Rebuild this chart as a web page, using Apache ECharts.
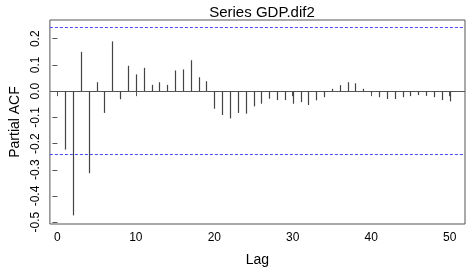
<!DOCTYPE html>
<html>
<head>
<meta charset="utf-8">
<script src="https://cdn.jsdelivr.net/npm/echarts@6/dist/echarts.min.js"></script>
<style>
  html, body { margin: 0; padding: 0; background: #fff; }
  #main { width: 468px; height: 272px; }
</style>
</head>
<body>
<div id="main"></div>
<script>
// lags 1..50 and partial autocorrelations
var lags = [];
for (var k = 1; k <= 50; k++) lags.push(k);
var pacfValues = [
  -0.223, -0.474, 0.150, -0.313, 0.034, -0.083, 0.190, -0.031, 0.097, 0.064,
  0.089, 0.024, 0.034, 0.024, 0.079, 0.083, 0.118, 0.053, 0.038, -0.067,
  -0.091, -0.104, -0.083, -0.086, -0.058, -0.048, -0.029, -0.034, -0.034, -0.048,
  -0.042, -0.053, -0.035, -0.023, 0.009, 0.023, 0.034, 0.030, 0.009, -0.006,
  -0.023, -0.030, -0.030, -0.023, -0.019, -0.015, -0.018, -0.023, -0.034, -0.039
];
var ciBound = 0.243;
var refLevels = [0, ciBound, -ciBound];
var xTicks = [0, 10, 20, 30, 40, 50];
var yTicks = [-0.5, -0.4, -0.3, -0.2, -0.1, 0.0, 0.1, 0.2];
var xMin = -0.96, xMax = 51.96;
var yMin = -0.5069, yMax = 0.2715;

var font = '"Liberation Sans", Arial, sans-serif';
var chart = echarts.init(document.getElementById('main'));

var option = {
  animation: false,
  title: {
    text: 'Series GDP.dif2',
    left: 257,
    top: 0,
    textAlign: 'center',
    textStyle: { fontFamily: font, fontSize: 15, fontWeight: 'normal', color: '#000' }
  },
  grid: {
    left: 49, right: 3, top: 20, bottom: 47,
    show: true, borderColor: '#555', borderWidth: 1, backgroundColor: 'transparent'
  },
  xAxis: {
    type: 'value',
    min: xMin, max: xMax,
    name: 'Lag',
    nameLocation: 'middle',
    nameGap: 29,
    nameTextStyle: { fontFamily: font, fontSize: 14, color: '#000' },
    axisLine: { show: false },
    splitLine: { show: false },
    axisTick: { show: true, length: 5, customValues: xTicks, lineStyle: { color: '#555' } },
    axisLabel: {
      customValues: xTicks, margin: 8,
      fontFamily: font, fontSize: 12, color: '#000'
    }
  },
  yAxis: {
    type: 'value',
    min: yMin, max: yMax,
    name: 'Partial ACF',
    nameLocation: 'middle',
    nameGap: 26,
    nameTextStyle: { fontFamily: font, fontSize: 14, color: '#000' },
    axisLine: { show: false },
    splitLine: { show: false },
    axisTick: { show: true, length: 5, customValues: yTicks, lineStyle: { color: '#555' } },
    axisLabel: {
      customValues: yTicks, rotate: 90, margin: 8,
      fontFamily: font, fontSize: 12, color: '#000',
      formatter: function (v) { return v.toFixed(1); }
    }
  },
  series: [
    {
      // zero line and confidence bounds
      type: 'custom',
      z: 1,
      silent: true,
      data: refLevels.map(function (v) { return [v]; }),
      renderItem: function (params, api) {
        var v = api.value(0);
        var a = api.coord([xMin, v]);
        var b = api.coord([xMax, v]);
        var y = Math.floor(a[1]) + 0.5;
        var isZero = v === 0;
        return {
          type: 'line',
          shape: { x1: a[0], y1: y, x2: b[0], y2: y },
          style: {
            stroke: isZero ? '#555' : '#4a4aff',
            lineWidth: 1,
            lineDash: isZero ? null : [3, 2]
          }
        };
      }
    },
    {
      type: 'custom',
      z: 2,
      data: lags.map(function (l, i) { return [l, pacfValues[i]]; }),
      renderItem: function (params, api) {
        var top = api.coord([api.value(0), api.value(1)]);
        var base = api.coord([api.value(0), 0]);
        var x = Math.round(top[0]) + 0.5;
        return {
          type: 'line',
          shape: { x1: x, y1: base[1], x2: x, y2: top[1] },
          style: { stroke: '#444', lineWidth: 1.2 }
        };
      }
    }
  ]
};
chart.setOption(option);
</script>
</body>
</html>
